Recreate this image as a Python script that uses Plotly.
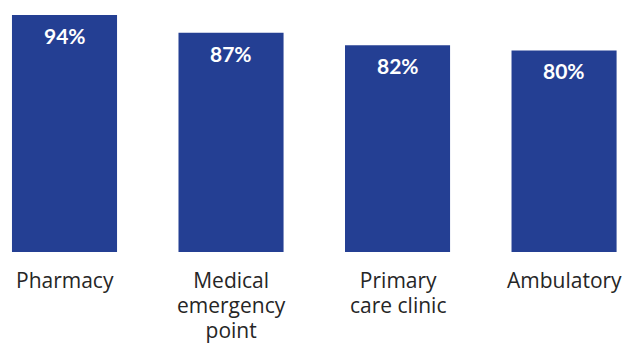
import plotly.graph_objects as go

categories = ["Pharmacy", "Medical<br>emergency<br>point", "Primary<br>care clinic", "Ambulatory"]
values = [94, 87, 82, 80]
value_labels = ["94%", "87%", "82%", "80%"]

bar_color = "#243F93"
text_color = "#262626"

fig = go.Figure(
    go.Bar(
        x=list(range(len(categories))),
        y=values,
        marker=dict(color=bar_color, line=dict(width=0)),
        hoverinfo="skip",
    )
)

# value labels inside the top of each bar
for i, (v, lab) in enumerate(zip(values, value_labels)):
    fig.add_annotation(
        x=i, y=v, xref="x", yref="y",
        text=f"<b>{lab}</b>", showarrow=False,
        yanchor="middle", yshift=-20.5,
        font=dict(family="Lato", size=21, color="white"),
    )

# category labels under the bars; the base size sets the line spacing
# (1.3em of 19.2px = 25px) while each line is drawn at 21px
for i, cat in enumerate(categories):
    lines = [f'<span style="font-size:21px">{ln}</span>' for ln in cat.split("<br>")]
    fig.add_annotation(
        x=i, y=0, xref="x", yref="paper",
        text="<br>".join(lines), showarrow=False,
        yanchor="top", yshift=-12,
        font=dict(family="Open Sans", size=19.2, color=text_color),
    )

fig.update_layout(
    width=623, height=343,
    margin=dict(l=0, r=0, t=0, b=91),
    paper_bgcolor="white", plot_bgcolor="white",
    bargap=0.369,
    showlegend=False,
    xaxis=dict(range=[-0.3874, 3.354], visible=False),
    yaxis=dict(range=[0, 100], visible=False),
)

fig.write_html("out.html")
